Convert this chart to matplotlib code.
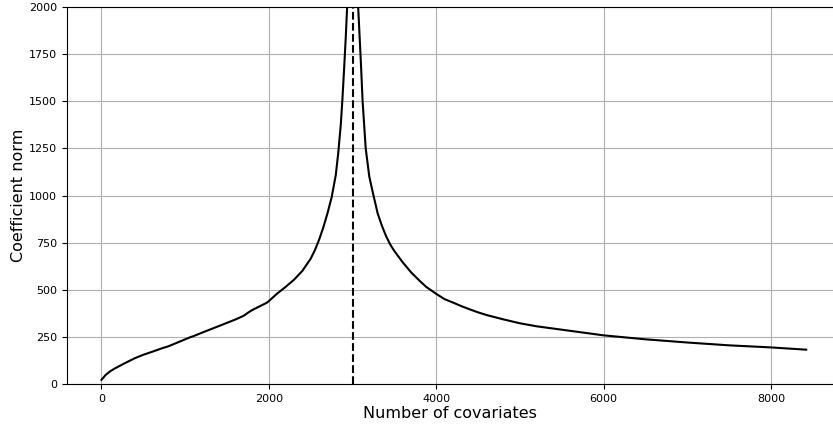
import matplotlib
matplotlib.use("Agg")
import matplotlib.pyplot as plt

# ── Values ──
n_covariates = [0, 50, 100, 150, 200, 300, 400, 500, 600, 720, 800, 1000, 1060,
                1100, 1200, 1435, 1600, 1700, 1750, 1800, 1975, 2000, 2100, 2200,
                2300, 2400, 2500, 2550, 2600, 2650, 2700, 2750, 2800, 2830, 2860,
                2880, 2900, 2920, 2935, 2965,
                3035, 3067, 3100, 3120, 3157, 3200, 3250, 3300, 3350, 3400, 3450,
                3500, 3600, 3700, 3800, 3880, 4000, 4100, 4200, 4300, 4400, 4500,
                4600, 4800, 5000, 5200, 5500, 6000, 6500, 7000, 7500, 8000, 8420]
coef_norm = [22, 48, 66, 80, 92, 115, 137, 155, 170, 189, 200, 237, 248,
             254, 272, 313, 342, 362, 378, 392, 431, 440, 480, 515,
             553, 600, 665, 710, 765, 830, 905, 990, 1110, 1230, 1380,
             1520, 1680, 1850, 2000, 4000,
             4000, 2000, 1700, 1500, 1250, 1100, 1000, 905, 840, 785, 740,
             705, 645, 592, 548, 515, 478, 450, 432, 413, 396, 380,
             366, 343, 322, 306, 288, 258, 237, 220, 205, 194, 182]
threshold = 3000

fig = plt.figure(figsize=(8.33, 4.25), dpi=100)
ax = fig.add_axes([0.0804, 0.0965, 0.9196, 0.887])

ax.plot(n_covariates, coef_norm, color='black', linewidth=1.5, zorder=3)
ax.axvline(threshold, color='black', linestyle='--', linewidth=1.5, zorder=3)

ax.set_xlim(-412, 8740)
ax.set_ylim(0, 2000)
ax.set_xticks([0, 2000, 4000, 6000, 8000])
ax.set_yticks([0, 250, 500, 750, 1000, 1250, 1500, 1750, 2000])
ax.tick_params(labelsize=8)
ax.grid(True, color='#b0b0b0', linewidth=0.8)
ax.set_axisbelow(True)
ax.spines['right'].set_visible(False)

ax.set_xlabel('Number of covariates', fontsize=11.5, labelpad=2)
ax.set_ylabel('Coefficient norm', fontsize=11.5, labelpad=2)

plt.savefig('out.png', dpi=100)
